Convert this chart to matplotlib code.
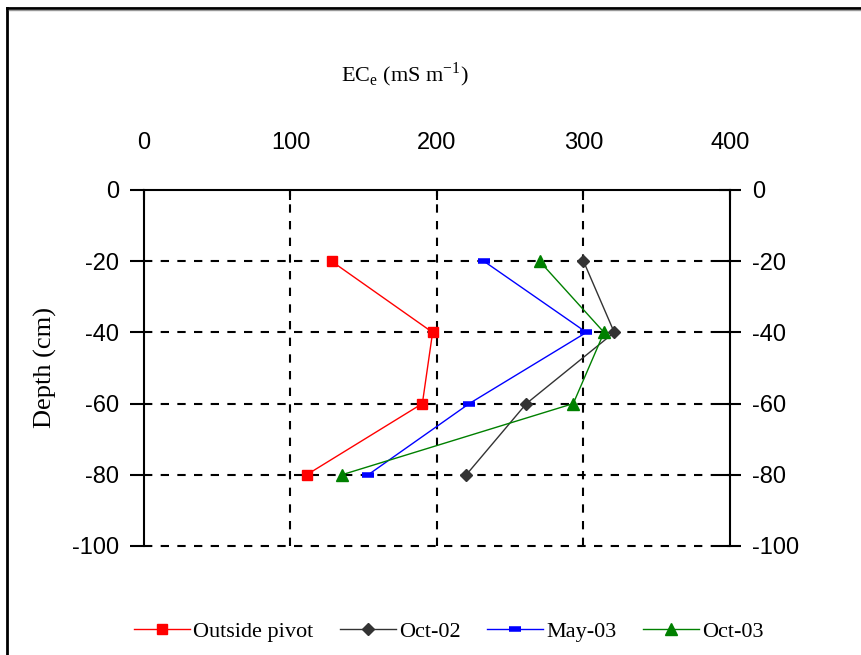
import matplotlib
matplotlib.use("Agg")
import matplotlib.pyplot as plt
from matplotlib.lines import Line2D

depth = [-20, -40, -60, -80]
outside_pivot = [128, 197, 190, 111]
oct_02 = [300, 321, 261, 220]
may_03 = [232, 302, 222, 153]
oct_03 = [270, 314, 293, 135]

x_ticks = [0, 100, 200, 300, 400]
y_ticks = [0, -20, -40, -60, -80, -100]

serif = "Liberation Serif"
sans = "Liberation Sans"
plt.rcParams["axes.unicode_minus"] = False

fig = plt.figure(figsize=(8.62, 6.55), dpi=100)
ax = fig.add_axes([144 / 862, 1 - 546 / 655, (730 - 144) / 862, (546 - 190) / 655])

ax.plot(outside_pivot, depth, color="#ff0000", lw=1, marker="s", ms=7,
        label="Outside pivot")
ax.plot(oct_02, depth, color="#333333", lw=1, marker="D", ms=6,
        label="Oct-02")
ax.plot(may_03, depth, color="#0000ff", lw=1, marker="_", ms=9, mew=4,
        label="May-03")
ax.plot(oct_03, depth, color="#008000", lw=1, marker="^", ms=9,
        label="Oct-03")

ax.set_xlim(0, 400)
ax.set_ylim(-100, 0)
ax.set_xticks(x_ticks)
ax.set_yticks(y_ticks)

# dashed grid, like the excel chart
for x in x_ticks[1:-1]:
    ax.axvline(x, color="black", lw=1.5, ls=(0, (4, 4)), zorder=0.5)
for y in y_ticks[1:]:
    ax.axhline(y, color="black", lw=1.5, ls=(0, (4, 4)), zorder=0.5, clip_on=False)

ax.xaxis.tick_top()
ax.tick_params(axis="x", direction="in", length=7, width=1.5, pad=26,
               labelsize=17)
ax.tick_params(axis="y", direction="out", length=10, width=1.5, pad=8,
               labelsize=17)
for lab in ax.get_xticklabels() + ax.get_yticklabels():
    lab.set_fontfamily(sans)

for s in ["top", "left"]:
    ax.spines[s].set_linewidth(1.5)
ax.spines["bottom"].set_visible(False)
ax.spines["right"].set_visible(False)

ax2 = ax.twinx()
ax2.set_ylim(-100, 0)
ax2.set_yticks(y_ticks)
ax2.tick_params(axis="y", direction="inout", length=16, width=1.5, pad=8,
                labelsize=17)
for lab in ax2.get_yticklabels():
    lab.set_fontfamily(sans)
for s in ["top", "left", "bottom"]:
    ax2.spines[s].set_visible(False)
ax2.spines["right"].set_linewidth(1.5)

fig.text(405 / 862, 1 - 75 / 655,
         r"EC$_\mathregular{e}$ (mS m$^\mathregular{-1}$)",
         ha="center", va="center", fontsize=16, family=serif)
fig.text(45 / 862, 1 - 368 / 655, "Depth (cm)", rotation=90,
         ha="center", va="center", fontsize=19, family=serif)

ax.legend(loc="center", bbox_to_anchor=(449 / 862, 1 - 632 / 655),
          bbox_transform=fig.transFigure, ncol=4, frameon=False,
          handlelength=2.5, handletextpad=0.15, columnspacing=1.2,
          prop={"family": serif, "size": 16})

# figure frame
fig.add_artist(Line2D([7 / 862, 7 / 862], [0, 1 - 8 / 655], color="black",
                      lw=2, transform=fig.transFigure))
fig.add_artist(Line2D([7 / 862, 1], [1 - 8 / 655, 1 - 8 / 655], color="black",
                      lw=2, transform=fig.transFigure))
fig.add_artist(Line2D([9 / 862, 1], [1 - 10 / 655, 1 - 10 / 655], color="#999999",
                      lw=1, transform=fig.transFigure))

fig.savefig("out.png", dpi=100)
